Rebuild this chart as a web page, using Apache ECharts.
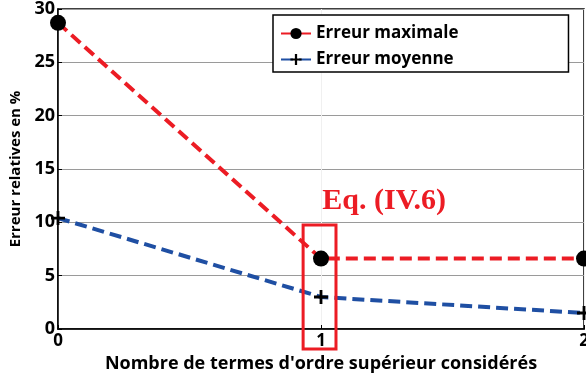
<!DOCTYPE html>
<html>
<head>
<meta charset="utf-8">
<style>
  html, body { margin: 0; padding: 0; background: #fff; }
  #chart { width: 586px; height: 376px; }
</style>
<script src="https://cdn.jsdelivr.net/npm/echarts@6/dist/echarts.min.js"></script>
</head>
<body>
<div id="chart"></div>
<script>
// Number of higher-order terms considered
const termCounts = [0, 1, 2];
// Relative errors (%)
const maxError = [28.7, 6.6, 6.6];
const meanError = [10.4, 3.0, 1.5];
const yTicks = { min: 0, max: 30, interval: 5 };
const xTicks = { min: 0, max: 2, interval: 1 };

const FONT = '"Open Sans", "DejaVu Sans", sans-serif';
const RED = '#ec1c24';
const BLUE = '#1f4fa3';
const PLUS = 'path://M4,0H6V4H10V6H6V10H4V6H0V4H4Z';

const chart = echarts.init(document.getElementById('chart'), null, { renderer: 'canvas' });

const option = {
  animation: false,
  backgroundColor: '#fff',
  grid: {
    left: 58, right: 2, top: 9, bottom: 47,
    outerBoundsMode: 'none', containLabel: false,
    show: true, borderColor: '#000', borderWidth: 1.5
  },
  legend: {
    left: 273, top: 15,
    orient: 'vertical',
    backgroundColor: '#fff',
    borderColor: '#000', borderWidth: 1.5,
    padding: [10, 110, 4, 7],
    itemWidth: 30, itemHeight: 14, itemGap: 9,
    textStyle: { fontFamily: FONT, fontWeight: 'bold', fontSize: 17, color: '#000' },
    data: ['Erreur maximale', 'Erreur moyenne']
  },
  xAxis: {
    type: 'value',
    min: xTicks.min, max: xTicks.max, interval: xTicks.interval,
    name: "Nombre de termes d'ordre supérieur considérés",
    nameLocation: 'middle', nameGap: 25,
    nameTextStyle: { fontFamily: FONT, fontWeight: 'bold', fontSize: 18, color: '#000' },
    axisLine: { lineStyle: { color: '#000', width: 1.5 } },
    axisTick: { inside: true, length: 4, lineStyle: { color: '#000' } },
    axisLabel: { fontFamily: FONT, fontWeight: 'bold', fontSize: 17, color: '#000', margin: 4 },
    splitLine: { show: true, lineStyle: { color: '#f0f0f0', width: 1 } }
  },
  yAxis: {
    type: 'value',
    min: yTicks.min, max: yTicks.max, interval: yTicks.interval,
    name: 'Erreur relatives en %',
    nameLocation: 'middle', nameGap: 34,
    nameTextStyle: { fontFamily: FONT, fontWeight: 'bold', fontSize: 15, color: '#000' },
    axisLine: { lineStyle: { color: '#000', width: 1.5 } },
    axisTick: { inside: true, length: 4, lineStyle: { color: '#000' } },
    axisLabel: { fontFamily: FONT, fontWeight: 'bold', fontSize: 18, color: '#000', margin: 3, padding: [4, 0, 0, 0] },
    splitLine: { show: true, lineStyle: { color: '#9a9a9a', width: 1 } }
  },
  series: [
    {
      name: 'Erreur maximale',
      type: 'line',
      data: termCounts.map((x, i) => [x, maxError[i]]),
      symbol: 'circle', symbolSize: 16,
      itemStyle: { color: '#000' },
      lineStyle: { color: RED, width: 4, type: [12, 6] },
      clip: false, z: 3
    },
    {
      name: 'Erreur moyenne',
      type: 'line',
      data: termCounts.map((x, i) => [x, meanError[i]]),
      symbol: PLUS, symbolSize: 14, symbolKeepAspect: true,
      itemStyle: { color: '#000' },
      lineStyle: { color: BLUE, width: 4, type: [12, 6] },
      clip: false, z: 3
    }
  ]
};

chart.setOption(option);

// Highlight box around the one-term case and its equation label
const topLeft = chart.convertToPixel({ gridIndex: 0 }, [0.932, 9.75]);
const botRight = chart.convertToPixel({ gridIndex: 0 }, [1.057, -1.875]);
const labelPos = chart.convertToPixel({ gridIndex: 0 }, [1.24, 12.0]);
chart.setOption({
  graphic: [
    {
      type: 'rect', z: 10,
      shape: { x: topLeft[0], y: topLeft[1], width: botRight[0] - topLeft[0], height: botRight[1] - topLeft[1] },
      style: { fill: null, stroke: RED, lineWidth: 3 }
    },
    {
      type: 'text', z: 10,
      x: labelPos[0], y: labelPos[1],
      style: {
        text: 'Eq. (IV.6)',
        fill: RED,
        font: 'bold 30px "Liberation Serif", "DejaVu Serif", serif',
        align: 'center', verticalAlign: 'middle'
      }
    }
  ]
});
</script>
</body>
</html>
